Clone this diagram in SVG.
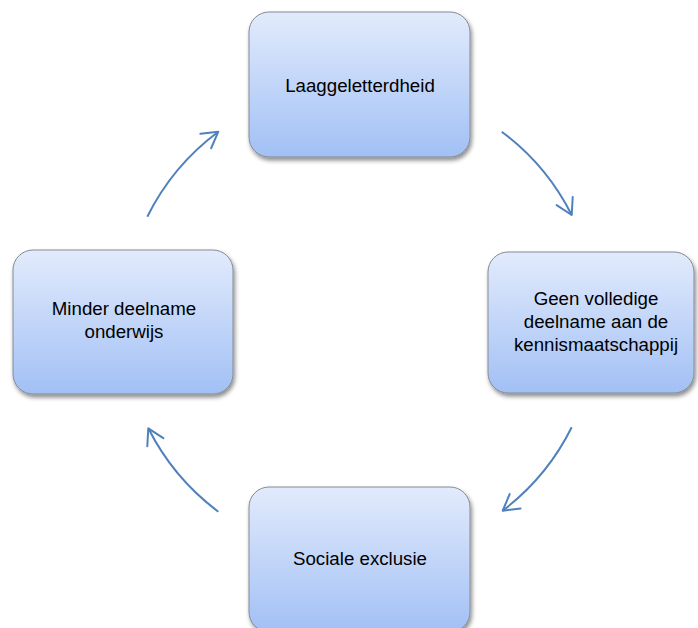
<svg xmlns="http://www.w3.org/2000/svg" width="698" height="628" viewBox="0 0 698 628">
<defs>
<linearGradient id="g" x1="0" y1="0" x2="0" y2="1">
<stop offset="0" stop-color="#e2ebfc"/>
<stop offset="1" stop-color="#a2c0f5"/>
</linearGradient>
<filter id="sh" x="-10%" y="-10%" width="125%" height="130%">
<feDropShadow dx="1.5" dy="3" stdDeviation="2" flood-color="#000" flood-opacity="0.45"/>
</filter>
<marker id="ah" markerUnits="userSpaceOnUse" viewBox="-20 -12 24 24" refX="0" refY="0" markerWidth="24" markerHeight="24" orient="auto" overflow="visible">
<path d="M-15.6,-9 L0,0 L-15.6,9" fill="none" stroke="#4f81bd" stroke-width="2" stroke-linecap="round" stroke-linejoin="round"/>
</marker>
</defs>
<style>
.box{fill:url(#g);stroke:#858b94;stroke-width:1;filter:url(#sh)}
.t{font-family:"Liberation Sans",Arial,sans-serif;font-size:18.7px;fill:#000;text-anchor:middle}
.c{fill:none;stroke:#4f81bd;stroke-width:2;marker-end:url(#ah)}
</style>
<g id="connectors">
<path class="c" d="M501.7,131.7 A236,236 0 0,1 571.7,215"/>
<path class="c" d="M571.7,427.3 A237,237 0 0,1 502.7,510.7"/>
<path class="c" d="M218.3,511.7 A238,238 0 0,1 148.3,428.3"/>
<path class="c" d="M147.3,216.7 A237,237 0 0,1 218.3,131.7"/>
</g>
<g id="node-laaggeletterdheid">
<rect class="box" x="249" y="12" width="221" height="145" rx="20"/>
<text class="t" x="360" y="92">Laaggeletterdheid</text>
</g>
<g id="node-geen-volledige">
<rect class="box" x="488" y="252" width="206" height="141" rx="20"/>
<text class="t" x="596" y="305">Geen volledige</text>
<text class="t" x="596" y="328">deelname aan de</text>
<text class="t" x="596" y="351">kennismaatschappij</text>
</g>
<g id="node-sociale-exclusie">
<rect class="box" x="249" y="487" width="221" height="145" rx="20"/>
<text class="t" x="360" y="565">Sociale exclusie</text>
</g>
<g id="node-minder-deelname">
<rect class="box" x="13" y="250" width="220" height="144" rx="20"/>
<text class="t" x="124" y="315">Minder deelname</text>
<text class="t" x="124" y="338">onderwijs</text>
</g>
</svg>
